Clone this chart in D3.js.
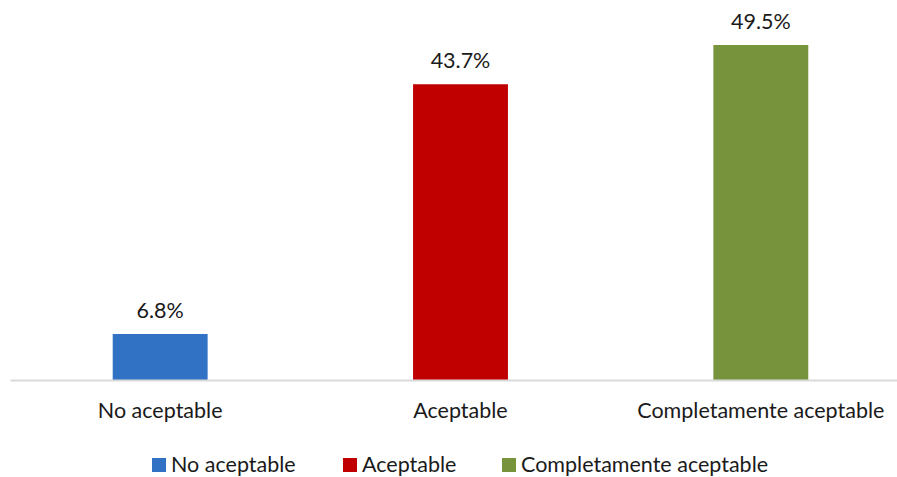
<!DOCTYPE html>
<html>
<head>
<meta charset="utf-8">
<script src="https://cdn.jsdelivr.net/npm/d3@7"></script>
<style>
  html, body { margin: 0; padding: 0; background: #fff; }
  svg { display: block; font-family: Lato, "Noto Sans", sans-serif; }
</style>
</head>
<body>
<svg id="chart" width="897" height="477"></svg>
<script>
// Survey response categories and their share of answers (%)
const categories = ["No aceptable", "Aceptable", "Completamente aceptable"];
const values = [6.8, 43.7, 49.5];
const colors = ["#3172c4", "#c00000", "#77933c"];

const svg = d3.select("#chart");
const plot = { left: 10, right: 911, top: 45, bottom: 380 };
const fontSize = 21.5;
const textColor = "#1a1a1a";

const x = d3.scaleBand()
  .domain(categories)
  .range([plot.left, plot.right])
  .paddingInner(0)
  .paddingOuter(0);

const y = d3.scaleLinear()
  .domain([0, 49.5])
  .range([plot.bottom, plot.top]);

const barWidth = x.bandwidth() * 0.316;
const data = categories.map((c, i) => ({ cat: c, value: values[i], color: colors[i] }));

// Bars
svg.append("g").selectAll("rect")
  .data(data)
  .join("rect")
  .attr("x", d => x(d.cat) + (x.bandwidth() - barWidth) / 2)
  .attr("y", d => y(d.value))
  .attr("width", barWidth)
  .attr("height", d => y(0) - y(d.value))
  .attr("fill", d => d.color);

// Value labels above each bar
svg.append("g").selectAll("text")
  .data(data)
  .join("text")
  .attr("x", d => x(d.cat) + x.bandwidth() / 2)
  .attr("y", d => y(d.value) - 16)
  .attr("text-anchor", "middle")
  .attr("font-size", fontSize)
  .attr("fill", textColor)
  .text(d => d.value.toFixed(1) + "%");

// Category axis
const xAxis = svg.append("g")
  .attr("transform", `translate(0,${plot.bottom})`)
  .call(d3.axisBottom(x).tickSize(0));
xAxis.select(".domain").attr("stroke", "#d9d9d9").attr("stroke-width", 2);
xAxis.selectAll(".tick text")
  .attr("y", 38)
  .attr("dy", null)
  .attr("font-size", fontSize)
  .attr("font-family", "Lato, 'Noto Sans', sans-serif")
  .attr("fill", textColor);

// Legend
const legendX = [152, 343, 502];
const legend = svg.append("g").selectAll("g")
  .data(data)
  .join("g")
  .attr("transform", (d, i) => `translate(${legendX[i]},472)`);
legend.append("rect")
  .attr("x", 0).attr("y", -14)
  .attr("width", 14).attr("height", 14)
  .attr("fill", d => d.color);
legend.append("text")
  .attr("x", 19)
  .attr("font-size", fontSize)
  .attr("fill", textColor)
  .text(d => d.cat);
</script>
</body>
</html>
